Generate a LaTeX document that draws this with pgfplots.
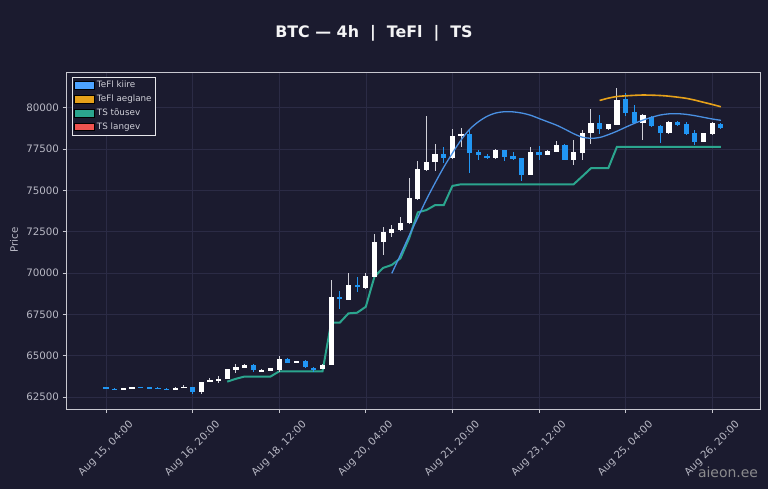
\documentclass[border=0pt]{standalone}
\usepackage{pgfplots}
\pgfplotsset{compat=1.18}
\usepackage{pgfplotstable}
\usepackage{fontspec}
\setmainfont{DejaVu Sans}

\definecolor{bg}{HTML}{1B1B2F}
\definecolor{gridc}{HTML}{2B2B45}
\definecolor{framec}{HTML}{C8C8D0}
\definecolor{tickc}{HTML}{B8B8C4}
\definecolor{downc}{HTML}{2196F3}
\definecolor{wickc}{HTML}{D0D0D8}
\definecolor{fastc}{HTML}{4A90E2}
\definecolor{fastleg}{HTML}{4DA3FF}
\definecolor{slowc}{HTML}{E6A11A}
\definecolor{trendc}{HTML}{2BA58E}
\definecolor{redc}{HTML}{EF5350}

% 4h candles, x = candle index (0 = Aug 15 04:00)
\pgfplotstableread{
i o h l c
2 62950 63060 62930 63040
3 63040 63130 63030 63110
8 62950 63080 62940 63060
9 63060 63230 63040 63100
11 62780 63430 62700 63390
12 63390 63640 63380 63520
13 63480 63760 63330 63600
14 63580 64200 63560 64170
15 64150 64500 63980 64300
16 64270 64480 64250 64450
18 64050 64220 64030 64100
19 64100 64250 64080 64230
20 64130 64980 64000 64830
22 64580 64700 64570 64680
25 64200 64480 64180 64450
26 64440 69580 64420 68570
28 68370 69980 68350 69300
30 69100 70000 69050 69800
31 69780 72360 69760 71900
32 71860 72800 71090 72460
33 72400 72900 72180 72660
34 72600 73370 72560 73000
35 73000 75730 72990 74520
36 74460 76800 74440 76270
37 76250 79500 76200 76720
38 76700 77800 76170 77200
40 76940 78700 76900 78300
41 78290 78800 77600 78430
45 76940 77480 76920 77450
49 75930 77600 75910 77340
51 77140 77420 77120 77380
52 77340 78000 77320 77750
54 76840 78030 76560 77340
55 77280 78650 76830 78450
56 78450 79900 77800 79100
58 78700 79040 78680 79000
59 78960 81170 78940 80470
62 79060 79600 78050 79560
65 78450 79200 78400 79160
69 77940 78500 77900 78450
70 78410 79150 78380 79060
}\upcandles

\pgfplotstableread{
i o h l c
0 63080 63100 62990 63020
1 63000 63040 62900 62950
4 63110 63130 63050 63070
5 63080 63100 63030 63050
6 63060 63090 62990 63010
7 63000 63020 62930 62950
10 63080 63110 62660 62800
17 64460 64500 63990 64120
21 64820 64860 64560 64580
23 64690 64720 64250 64300
24 64250 64300 64040 64120
27 68530 68910 67800 68400
29 69280 69780 68870 69150
39 77180 77650 76650 76980
42 78390 78700 76030 77240
43 77310 77420 76820 77140
44 77100 77200 76870 76940
46 77440 77460 76800 77040
47 77080 77330 76850 76920
48 76940 76960 75590 75930
50 77340 77700 76830 77140
53 77750 77780 76820 76840
57 79100 79550 78400 78700
60 80510 80870 79500 79660
61 79720 80170 79000 79060
63 79460 79500 78850 78900
64 78900 78950 77850 78450
66 79120 79180 78900 78960
67 79000 79130 78380 78410
68 78450 78650 77750 77940
71 79020 79080 78700 78760
}\downcandles

\begin{document}
\begin{tikzpicture}
\path[use as bounding box, fill=bg] (-66bp,-79.7bp) rectangle (702bp,409.3bp);
\begin{axis}[
  at={(0,0)}, anchor=south west,
  scale only axis, width=694bp, height=336.6bp,
  xmin=-4.62, xmax=75.52, ymin=61756, ymax=82120,
  axis background/.style={fill=bg},
  axis line style={framec, line width=0.9bp},
  grid=major, major grid style={gridc, line width=0.6bp},
  tick pos=left, tick align=outside, major tick length=3.5bp,
  tick style={framec, line width=0.8bp},
  xtick={0,10,...,70},
  xticklabels={{Aug 15, 04:00},{Aug 16, 20:00},{Aug 18, 12:00},{Aug 20, 04:00},
    {Aug 21, 20:00},{Aug 23, 12:00},{Aug 25, 04:00},{Aug 26, 20:00}},
  ytick={62500,65000,...,80000},
  scaled y ticks=false,
  /pgf/number format/1000 sep={},
  /pgf/number format/assume math mode=true,
  yticklabel={\pgfmathprintnumber[fixed,precision=0]{\tick}},
  ticklabel style={font=\fontsize{10.3}{12}\selectfont, text=tickc},
  xticklabel style={rotate=45, anchor=center},
  xticklabel shift=36bp,
  legend style={at={(0.009,0.987)}, anchor=north west, fill=bg, draw=framec!45,
    line width=0.5bp, font=\fontsize{8.8}{10}\selectfont, text=wickc,
    inner sep=2bp, row sep=1.6bp, legend cell align=left},
  legend image code/.code={\fill[#1] (0bp,-3.8bp) rectangle (20bp,4bp);},
]
\addlegendimage{fill=fastleg}
\addlegendentry{TeFl kiire}
\addlegendimage{fill=slowc}
\addlegendentry{TeFl aeglane}
\addlegendimage{fill=trendc}
\addlegendentry{TS tõusev}
\addlegendimage{fill=redc}
\addlegendentry{TS langev}

% TS rising line
\addplot[trendc, line width=2bp, forget plot] coordinates {
(14,63430) (15,63600) (16,63740) (17,63740) (18,63740) (19,63740) (20,64050)
(21,64050) (22,64050) (23,64050) (24,64050) (25,64050) (26,67000) (27,67000)
(28,67560) (29,67600) (30,67960) (31,69780) (32,70310) (33,70490) (34,70890)
(35,72100) (36,73670) (37,73810) (38,74110) (39,74110) (40,75270) (41,75370)
(42,75370) (44,75370) (46,75370) (48,75370) (50,75370) (52,75370) (54,75370)
(55,75850) (56,76340) (57,76340) (58,76340) (59,77640) (61,77640) (63,77640)
(65,77640) (67,77640) (69,77640) (71,77640)
};

% wicks
\addplot[draw=none, no markers, forget plot,
  error bars/.cd, y dir=both, y explicit, error mark=none,
  error bar style={draw=wickc, line width=1bp}]
  table[x=i, y expr=(\thisrow{h}+\thisrow{l})/2, y error expr=(\thisrow{h}-\thisrow{l})/2] {\upcandles};
\addplot[draw=none, no markers, forget plot,
  error bars/.cd, y dir=both, y explicit, error mark=none,
  error bar style={draw=downc, line width=1bp}]
  table[x=i, y expr=(\thisrow{h}+\thisrow{l})/2, y error expr=(\thisrow{h}-\thisrow{l})/2] {\downcandles};
% bodies
\addplot[draw=none, no markers, forget plot,
  error bars/.cd, y dir=both, y explicit, error mark=none,
  error bar style={draw=white, line width=5.2bp}]
  table[x=i, y expr=(\thisrow{o}+\thisrow{c})/2, y error expr={max(abs(\thisrow{c}-\thisrow{o})/2,35)}] {\upcandles};
\addplot[draw=none, no markers, forget plot,
  error bars/.cd, y dir=both, y explicit, error mark=none,
  error bar style={draw=downc, line width=5.2bp}]
  table[x=i, y expr=(\thisrow{o}+\thisrow{c})/2, y error expr={max(abs(\thisrow{c}-\thisrow{o})/2,35)}] {\downcandles};

% TeFl fast
\addplot[fastc, line width=1.3bp, smooth, forget plot] coordinates {
(33,69980) (34,71100) (35,72250) (36,73350) (37,74450) (38,75450) (39,76400)
(40,77250) (41,78050) (42,78700) (43,79150) (44,79480) (45,79680) (46,79760)
(47,79750) (48,79680) (49,79550) (50,79350) (51,79150) (52,78950) (53,78700)
(54,78430) (55,78220) (56,78150) (57,78200) (58,78370) (59,78580) (60,78820)
(61,79050) (62,79250) (63,79420) (64,79560) (65,79630) (66,79640) (67,79600)
(68,79520) (69,79420) (70,79320) (71,79240)
};
% TeFl slow
\addplot[slowc, line width=1.6bp, smooth, forget plot] coordinates {
(57,80440) (58,80580) (59,80680) (60,80720) (61,80750) (62,80770) (63,80760)
(64,80740) (65,80700) (66,80640) (67,80570) (68,80460) (69,80330) (70,80200)
(71,80060)
};
\end{axis}
\node[font=\fontsize{15.9}{18}\selectfont\bfseries, text=white!95!bg] at (308bp,376.3bp)
  {BTC — 4h\ \ |\ \ TeFl\ \ |\ \ TS};
\node[rotate=90, font=\fontsize{10.3}{12}\selectfont, text=tickc] at (-52bp,169.3bp) {Price};
\node[font=\fontsize{14}{16}\selectfont, text=gray!75, opacity=0.85] at (662bp,-62.7bp) {aieon.ee};
\end{tikzpicture}
\end{document}
